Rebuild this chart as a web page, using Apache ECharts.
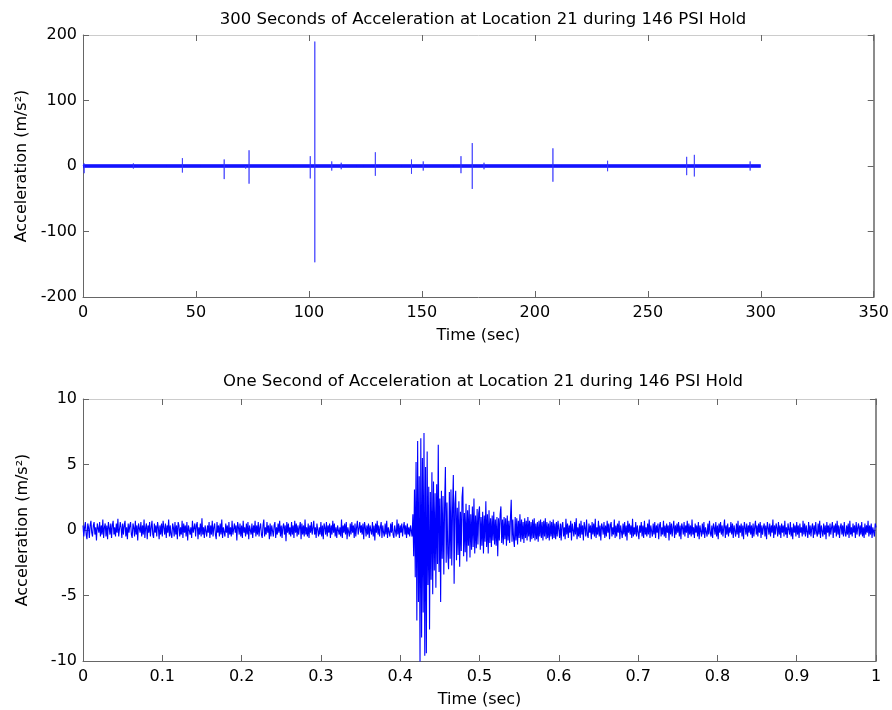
<!DOCTYPE html>
<html>
<head>
<meta charset="utf-8">
<script src="https://cdn.jsdelivr.net/npm/echarts@6/dist/echarts.min.js"></script>
<style>
html,body{margin:0;padding:0;background:#fff;}
#chart{width:892px;height:710px;}
</style>
</head>
<body>
<div id="chart"></div>
<script>
// ---------- Top plot: 300 s record (spike events) ----------
const topTitle = '300 Seconds of Acceleration at Location 21 during 146 PSI Hold';
const topRecordStart = 0;
const topRecordEnd = 300;
const spikeTimes = [0.5, 22.3, 37, 44, 52, 62.5, 72, 73.5, 93, 100.6, 102.6, 110.1, 114.3, 121, 124.3, 129.4, 141, 145.4, 150.6, 164, 167.3, 172.3, 177.5, 197, 208, 212, 229, 232.2, 267.2, 270.6, 295.3];
const spikeMax   = [4, 4, 2, 12, 2, 10, 3, 24, 2, 15, 190, 7, 5, 3, 3, 21, 2, 10, 7, 2, 15, 35, 5, 2, 27, 3, 2, 8, 14, 17, 7];
const spikeMin   = [-11, -4, -2, -10, -2, -20, -4, -27, -2, -19, -147, -7, -5, -3, -3, -15, -2, -12, -7, -2, -11, -35, -5, -2, -24, -3, -2, -8, -14, -16, -7];
const topXTicks = [0, 50, 100, 150, 200, 250, 300, 350];
const topYTicks = [-200, -100, 0, 100, 200];

// ---------- Bottom plot: one second record (1 ms samples) ----------
const bottomTitle = 'One Second of Acceleration at Location 21 during 146 PSI Hold';
const preStart = 0.000, preStep = 0.001;
const preEvent = [
.35,-.5,.2,.6,-.35,-.7,.5,.2,-.6,.35,.7,-.2,-.5,.35,.6,-.35,.2,-.8,.5,.35,
-.2,.6,-.5,.35,-.35,.8,-.6,.2,.5,-.5,.35,-.7,.6,.2,-.35,.5,-.6,.35,.7,-.35,
.2,-.5,.5,-.2,.85,-.5,-.35,.6,.2,-.6,.5,-.35,.35,.7,-.5,.2,-.7,.5,-.2,.35,
.6,-.35,-.6,.5,.2,-.5,.7,-.35,.35,-.8,.5,.35,-.2,.6,-.5,.35,-.35,.8,-.6,.2,
.5,-.7,.35,-.2,.6,-.5,.2,.7,-.35,-.6,.5,-.2,.35,-.5,.6,.2,-.7,.35,-.35,.5,
-.5,.7,.2,-.35,.5,-.6,.35,-.2,.8,-.5,.35,-.35,-.6,.5,.2,-.5,.6,-.35,.35,-.7,
.6,.35,-.5,.2,-.35,.7,-.6,.5,-.2,.35,-.5,.6,-.8,.35,.5,-.35,.2,-.6,.7,-.2,
-.35,.5,-.5,.35,.6,-.7,.2,-.35,.5,-.5,.9,-.35,.2,-.6,.35,.5,-.5,.35,-.2,.6,
-.6,.35,-.35,.7,-.5,.2,.5,-.35,-.7,.6,-.2,.35,-.5,.5,-.35,.8,-.6,.2,.35,-.5,
.5,-.2,.35,-.6,.6,-.35,.2,-.5,.7,-.35,-.5,.5,-.2,.35,-.8,.6,.2,-.35,.5,-.5,
.35,-.6,.7,-.2,.2,-.5,.5,-.35,.6,-.7,.35,.2,-.35,.5,-.6,.35,-.2,.7,-.5,.35,
-.35,.6,-.5,.2,.5,-.35,-.6,.35,.8,-.5,.2,-.35,.6,-.2,.35,-.7,.5,-.5,.35,.2,
-.5,.35,.6,-.6,.2,-.35,.5,-.2,.7,-.5,.35,-.6,.2,.5,-.35,.35,-.85,.6,-.2,.5,
-.35,.2,-.5,.6,-.35,.35,-.6,.7,-.2,.5,-.5,.35,-.35,.2,.6,-.7,.5,-.35,.35,-.5,
.8,-.35,.2,-.5,.5,-.6,.35,-.2,.6,-.35,-.5,.7,-.35,.2,-.6,.5,.35,-.5,.2,-.35,
.6,-.5,.35,-.7,.5,.2,-.35,.6,-.5,.35,-.2,.5,-.6,.35,-.35,.7,-.2,.5,-.5,.2,
-.6,.35,.5,-.35,.2,-.5,.8,-.6,.35,-.2,.5,-.35,.6,-.7,.2,.35,-.5,.5,-.35,.6,
-.2,.35,-.6,.5,-.5,.2,.7,-.35,-.5,.6,-.2,.35,-.35,.5,-.7,.6,.2,-.5,.35,-.35,
.5,-.6,.35,.2,-.35,.6,-.5,.35,-.8,.5,-.2,.7,-.35,.35,-.5,.2,.6,-.6,.35,-.2,
-.5,.5,-.35,.7,-.6,.2,.35,-.5,.5,-.2,.6,-.35,-.6,.35,.2,-.5,.8,-.35,.5,-.6,
.35,-.2,.5,-.5,.2,.6,-.35,.35,-.6,.5,-.35,.2,-.5,.35
];
const burstStart = 0.414, burstStep = 0.001;
const burstEvent = [
0.3,-0.5,1.2,-2.0,3.1,-3.6,5.2,-6.9,6.8,-5.5,4.1,-10.2,7.0,-8.2,5.5,-6.3,7.4,-9.6,4.8,-9.4,
6.0,-4.2,3.3,-7.6,2.9,-3.8,4.4,-4.9,3.7,-3.1,2.8,-4.4,3.5,-2.6,6.5,-3.2,2.4,-5.5,3.0,-2.2,
2.6,-3.4,1.9,4.8,-2.5,2.1,-1.8,-3.0,2.9,-2.2,3.1,-2.7,1.6,4.2,-4.1,2.0,3.0,-2.3,1.7,-1.9,
2.2,-2.8,1.4,-1.6,2.5,3.3,-2.0,1.3,-1.7,2.0,-2.4,1.5,-1.2,1.9,-2.1,1.2,-1.5,1.8,-1.3,2.4,
-1.8,1.1,-1.4,1.6,-1.1,1.3,1.8,-1.5,1.0,-1.2,1.4,-1.8,1.1,-0.9,2.2,-1.3,1.2,-1.8,1.5,-1.0,
0.9,-1.3,1.1,-0.8,1.4,-1.1,0.8,-1.2,1.0,-2.0,0.9,-0.8,1.2,1.8,-1.0,0.8,-1.1,1.0,-0.7,0.9,
-1.2,1.1,-0.8,0.7,-1.0,0.9,2.3,-0.9,0.8,-0.7,-1.3,1.0,-0.8,0.9,-1.1,0.7,-0.6,1.2,-0.9,0.8,
-0.7,0.6,-1.0,0.9,-0.6,0.7,-0.8,1.0,-0.5,0.7,-0.9,0.6,-0.7,0.8,-0.6,0.9,-0.8,0.5,-0.7,0.6,
-0.9,0.7,-0.5,0.8,-0.6,0.6,-0.8,0.7,-0.5,0.9,-0.7,0.6,-0.6,0.5,-0.8,0.7,-0.5,0.6,-0.7,0.8,
-0.6,0.5,-0.7,0.6,-0.5,0.7
];
const postStart = 0.600, postStep = 0.001;
const postEvent = [
.7,-.6,.5,-.8,.35,.6,-.5,.2,-.7,.85,-.35,.5,-.6,.35,-.2,.7,-.8,.5,.35,-.5,
.6,-.35,.9,-.7,.2,-.5,.5,-.6,.7,-.35,.35,-.8,.6,.2,-.5,.8,-.35,-.6,.5,-.2,
.35,-.7,.6,-.35,.5,-.5,.85,-.6,.2,-.35,.7,-.5,.35,-.8,.5,.2,-.35,.6,-.6,.35,
-.5,.7,-.2,.5,-.7,.35,.6,-.5,.2,-.35,.8,-.6,.35,-.5,.5,-.2,.7,-.7,.35,.2,
-.6,.5,-.35,.6,-.5,.35,-.8,.7,-.2,.5,-.35,.35,-.6,.85,-.5,.2,-.35,.6,-.5,.35,
.5,-.7,.35,-.2,.6,-.5,.35,-.6,.7,-.35,.2,-.5,.5,-.35,.8,-.6,.35,.2,-.5,.5,
-.35,.6,-.6,.35,-.2,.5,-.7,.35,.6,-.5,.2,-.35,.7,-.5,.35,-.6,.5,-.2,.35,-.8,
.6,-.35,.5,-.5,.2,.7,-.6,.35,-.35,.5,-.2,.6,-.5,.35,-.7,.5,.2,-.35,.6,-.5,
.35,-.2,.7,-.6,.5,-.35,.35,-.5,.8,-.35,.2,-.6,.5,-.2,.35,-.5,.6,-.7,.35,.2,
-.5,.5,-.35,.6,-.6,.2,.35,-.5,.5,-.35,.7,-.2,-.5,.35,-.6,.5,.2,-.35,.6,-.5,
.35,-.7,.5,-.2,.6,-.35,.35,-.5,.2,.8,-.6,.35,-.35,.5,-.5,.2,-.2,.6,-.35,.5,
-.6,.35,.2,-.5,.5,-.35,.7,-.6,.35,-.2,.5,-.5,.35,-.7,.6,.2,-.35,.5,-.5,.35,
-.2,.6,-.35,.35,-.6,.5,-.5,.2,.7,-.35,.35,-.5,.5,-.2,.6,-.6,.35,-.35,.2,.5,
-.5,.35,-.7,.6,.2,-.35,.5,-.5,.35,-.2,.8,-.6,.35,-.35,.5,.2,-.5,.6,-.35,.35,
-.6,.5,-.2,.35,-.5,.7,-.35,.2,-.6,.5,.35,-.35,.6,-.5,.2,-.7,.5,-.2,.35,-.5,
.6,-.35,.35,-.6,.5,-.2,.2,-.5,.7,-.35,.5,-.5,.35,.2,-.6,.6,-.35,.35,-.5,.2,
.5,-.6,.35,-.35,.6,-.2,-.5,.5,-.35,.7,-.6,.35,.2,-.5,.5,-.35,.35,-.7,.6,-.2,
.35,-.5,.5,-.35,.2,.6,-.6,.35,-.2,.5,-.5,.7,-.35,.35,-.6,.2,.5,-.35,.35,-.5,
.6,-.2,-.5,.35,-.35,.5,-.6,.7,-.35,.2,-.5,.5,-.2,.35,-.6,.6,-.35,.2,.5,-.5,
.35,-.35,.6,-.5,.2,-.6,.5,-.35,.35,-.2,.7,-.5,.35,-.35,.5,-.6,.2,.35,-.5,.5,
.2
];
const bottomXTicks = [0, 0.1, 0.2, 0.3, 0.4, 0.5, 0.6, 0.7, 0.8, 0.9, 1];
const bottomYTicks = [-10, -5, 0, 5, 10];

// ---------- build series data ----------
const topSpikeData = [[topRecordStart, 0]];
spikeTimes.forEach((t, i) => {
  topSpikeData.push([t, 0], [t, spikeMax[i]], [t, spikeMin[i]], [t, 0]);
});
topSpikeData.push([topRecordEnd, 0]);
const topBaseData = [[topRecordStart, 0], [topRecordEnd, 0]];

function segment(start, step, vals) {
  return vals.map((v, i) => [+(start + i * step).toFixed(4), v]);
}
const bottomData = [].concat(
  segment(preStart, preStep, preEvent),
  segment(burstStart, burstStep, burstEvent),
  segment(postStart, postStep, postEvent)
);

// ---------- chart ----------
const FONT = '"DejaVu Sans", sans-serif';
const FS = 16;
const chart = echarts.init(document.getElementById('chart'), null, {renderer: 'canvas'});

function fmt(ticks) {
  return v => { const m = ticks.find(t => Math.abs(t - v) < 1e-9); return m === undefined ? '' : String(m); };
}
function mainX(grid, ticks, interval, name) {
  return {
    type: 'value', gridIndex: grid, position: 'bottom', min: ticks[0], max: ticks[ticks.length - 1], interval: interval,
    name: name, nameLocation: 'middle', nameGap: 31,
    nameTextStyle: {color: '#000', fontFamily: FONT, fontSize: FS},
    axisLine: {show: true, onZero: false, lineStyle: {color: '#666', width: 1}},
    axisTick: {show: true, inside: true, length: 6, lineStyle: {color: '#666'}},
    axisLabel: {color: '#000', fontFamily: FONT, fontSize: FS, margin: 8, formatter: fmt(ticks)},
    splitLine: {show: false}
  };
}
function topX(grid, ticks, interval) {
  return {
    type: 'value', gridIndex: grid, position: 'top', min: ticks[0], max: ticks[ticks.length - 1], interval: interval,
    axisLine: {show: true, onZero: false, lineStyle: {color: '#cccccc', width: 1}},
    axisTick: {show: true, inside: true, length: 6, lineStyle: {color: '#666'}},
    axisLabel: {show: false}, splitLine: {show: false}
  };
}
function mainY(grid, ticks, interval) {
  return {
    type: 'value', gridIndex: grid, position: 'left', min: ticks[0], max: ticks[ticks.length - 1], interval: interval,
    name: 'Acceleration (m/s²)', nameLocation: 'middle', nameGap: 52, nameRotate: 90,
    nameTextStyle: {color: '#000', fontFamily: FONT, fontSize: FS},
    axisLine: {show: true, onZero: false, lineStyle: {color: '#666', width: 1}},
    axisTick: {show: true, inside: true, length: 6, lineStyle: {color: '#666'}},
    axisLabel: {color: '#000', fontFamily: FONT, fontSize: FS, margin: 6, formatter: fmt(ticks)},
    splitLine: {show: false}
  };
}
function rightY(grid, ticks, interval) {
  return {
    type: 'value', gridIndex: grid, position: 'right', min: ticks[0], max: ticks[ticks.length - 1], interval: interval,
    axisLine: {show: true, onZero: false, lineStyle: {color: '#666', width: 1.5}},
    axisTick: {show: true, inside: true, length: 6, lineStyle: {color: '#666'}},
    axisLabel: {show: false}, splitLine: {show: false}
  };
}

const option = {
  animation: false,
  backgroundColor: '#ffffff',
  title: [
    {text: topTitle, left: 478, top: 6, textAlign: 'center',
      textStyle: {fontFamily: FONT, fontSize: 16.5, fontWeight: 'normal', color: '#000'}},
    {text: bottomTitle, left: 478, top: 368, textAlign: 'center',
      textStyle: {fontFamily: FONT, fontSize: 16.5, fontWeight: 'normal', color: '#000'}}
  ],
  grid: [
    {left: 83, top: 35, width: 793, height: 262},
    {left: 83, top: 399, width: 793, height: 262}
  ],
  xAxis: [
    mainX(0, topXTicks, 50, 'Time (sec)'),
    topX(0, topXTicks, 50),
    mainX(1, bottomXTicks, 0.1, 'Time (sec)'),
    topX(1, bottomXTicks, 0.1)
  ],
  yAxis: [
    mainY(0, topYTicks, 100),
    rightY(0, topYTicks, 100),
    mainY(1, bottomYTicks, 5),
    rightY(1, bottomYTicks, 5)
  ],
  series: [
    {type: 'line', xAxisIndex: 0, yAxisIndex: 0, data: topBaseData, symbol: 'none',
      lineStyle: {color: '#0000ff', width: 3.5}, silent: true},
    {type: 'line', xAxisIndex: 0, yAxisIndex: 0, data: topSpikeData, symbol: 'none',
      lineStyle: {color: '#3333ff', width: 1, opacity: 0.75}, silent: true},
    {type: 'line', xAxisIndex: 2, yAxisIndex: 2, data: bottomData, symbol: 'none',
      clip: true, sampling: null,
      lineStyle: {color: '#0000ff', width: 1.1}, silent: true}
  ]
};
chart.setOption(option);
</script>
</body>
</html>
